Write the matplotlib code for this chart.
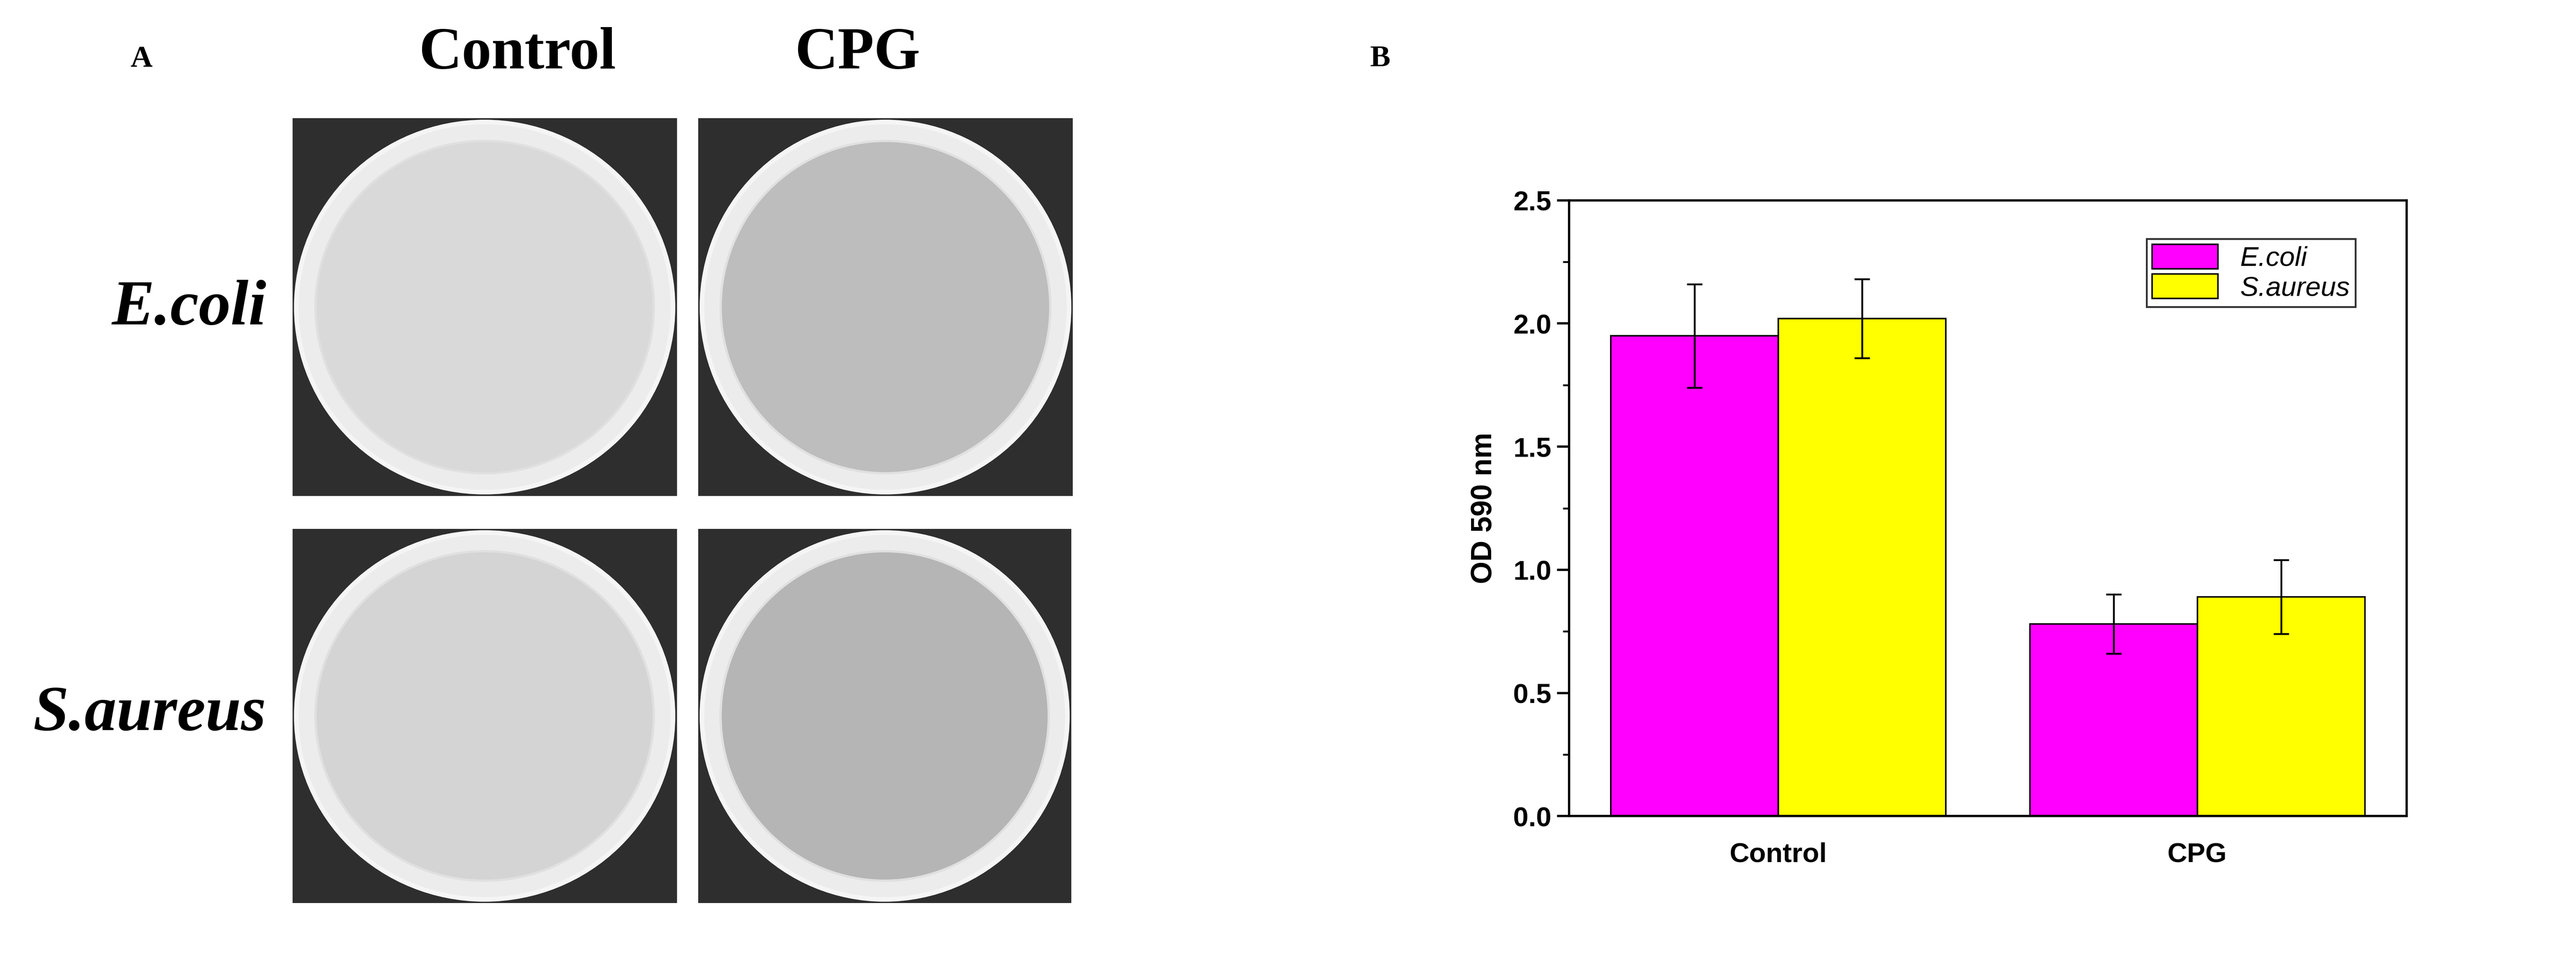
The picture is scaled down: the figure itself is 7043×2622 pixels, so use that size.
import matplotlib as mpl; mpl.use("Agg")
import matplotlib.pyplot as plt
from matplotlib.patches import Circle

groups = ["Control", "CPG"]
ecoli = [1.95, 0.78]
ecoli_err = [0.21, 0.12]
saureus = [2.02, 0.89]
saureus_err = [0.16, 0.15]
row_labels = ["E.coli", "S.aureus"]
dish_colors = [["#d9d9d9", "#bdbdbd"], ["#d4d4d4", "#b5b5b5"]]

W, H = 1568, 584
fig = plt.figure(figsize=(7043/300, 2622/300), dpi=300)

def frac(x0, y0, x1, y1):
    return [x0/W, 1-y1/H, (x1-x0)/W, (y1-y0)/H]

# panel A: dish photos approximated
boxes = [[(178, 72, 412, 302), (425, 72, 653, 302)],
         [(178, 322, 412, 550), (425, 322, 652, 550)]]
for r in range(2):
    for c in range(2):
        ax = fig.add_axes(frac(*boxes[r][c]))
        ax.set_facecolor("#2e2e2e")
        ax.set_xlim(0, 1); ax.set_ylim(0, 1)
        ax.add_patch(Circle((0.5, 0.5), 0.49, fc="#ececec", ec="#f5f5f5", lw=3))
        ax.add_patch(Circle((0.5, 0.5), 0.44, fc=dish_colors[r][c], ec="#e0e0e0", lw=1.5))
        ax.set_xticks([]); ax.set_yticks([])
        for s in ax.spines.values(): s.set_visible(False)
for g, x in zip(groups, [315, 522]):
    fig.text(x/W, 1-33/H, g, ha="center", va="center", family="Liberation Serif",
             fontweight="bold", fontsize=39)
for lab, y in zip(row_labels, [188, 435]):
    fig.text(162/W, 1-y/H, lab, ha="right", va="center", family="Liberation Serif",
             fontweight="bold", style="italic", fontsize=42)
fig.text(86/W, 1-36/H, "A", ha="center", va="center", family="Liberation Serif", fontweight="bold", fontsize=20)
fig.text(840/W, 1-36/H, "B", ha="center", va="center", family="Liberation Serif", fontweight="bold", fontsize=20)

# panel B: bar chart
ax = fig.add_axes(frac(955, 122, 1465, 497))
xs = [0, 1]; w = 0.4
ax.bar([x - w/2 for x in xs], ecoli, w, yerr=ecoli_err, color="#ff00ff", edgecolor="black", lw=1,
       capsize=5, error_kw=dict(lw=1.2, capthick=1.2), label="E.coli")
ax.bar([x + w/2 for x in xs], saureus, w, yerr=saureus_err, color="#ffff00", edgecolor="black", lw=1,
       capsize=5, error_kw=dict(lw=1.2, capthick=1.2), label="S.aureus")
ax.set_xlim(-0.5, 1.5); ax.set_ylim(0, 2.5)
ax.set_xticks(xs); ax.set_xticklabels(groups)
ax.set_yticks([0, 0.5, 1.0, 1.5, 2.0, 2.5])
ax.set_yticks([0.25, 0.75, 1.25, 1.75, 2.25], minor=True)
ax.tick_params(axis="y", which="major", length=8, width=1.5)
ax.tick_params(axis="y", which="minor", length=4, width=1.2)
ax.tick_params(axis="x", length=0, pad=17)
for s in ax.spines.values(): s.set_linewidth(1.5)
for t in ax.get_xticklabels() + ax.get_yticklabels():
    t.set_family("Liberation Sans"); t.set_fontweight("bold"); t.set_fontsize(18)
ax.set_ylabel("OD 590 nm", family="Liberation Sans", fontweight="bold", fontsize=19, labelpad=10)
leg = ax.legend(loc="upper right", bbox_to_anchor=(0.955, 0.96), frameon=True, fancybox=False,
                edgecolor="black", prop=dict(family="Liberation Sans", style="italic", size=18),
                handlelength=2.4, handleheight=1.0, borderpad=0.2, labelspacing=0.1)
leg.get_frame().set_linewidth(1.2)
fig.savefig("out.png", dpi=300)
